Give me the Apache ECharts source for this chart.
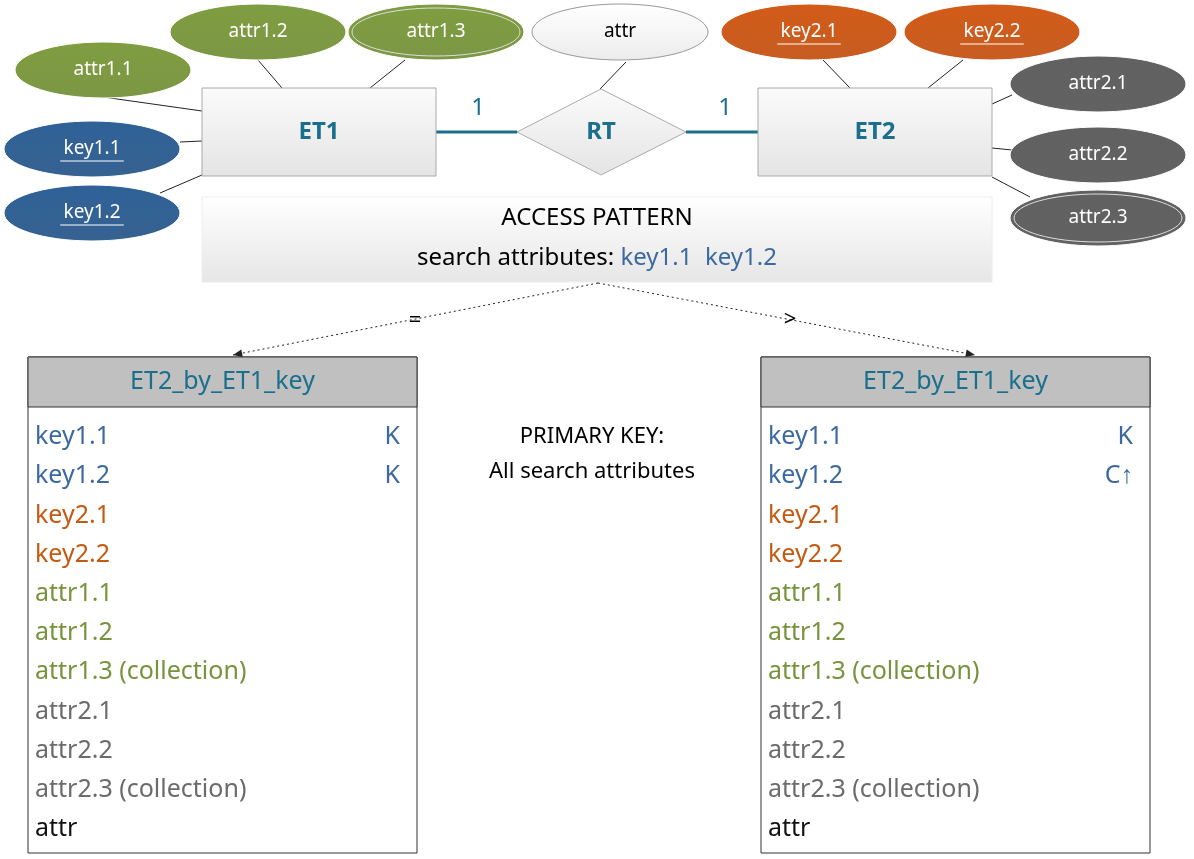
<!DOCTYPE html>
<html><head><meta charset="utf-8">
<script src="https://cdn.jsdelivr.net/npm/echarts@6/dist/echarts.min.js"></script>
<style>html,body{margin:0;background:#fff}#c{width:1194px;height:859px}</style>
</head><body><div id="c"></div>
<script>
// ellipses: label, cx, cy, kind, isKey, double border
const ellipses = [
  ['attr1.1', 103, 70, 'green', false, false],
  ['attr1.2', 258, 32, 'green', false, false],
  ['attr1.3', 436, 32, 'green', false, true],
  ['key1.1', 92, 149, 'blue', true, false],
  ['key1.2', 92, 213, 'blue', true, false],
  ['attr', 620, 32, 'white', false, false],
  ['key2.1', 809, 32, 'orange', true, false],
  ['key2.2', 992, 32, 'orange', true, false],
  ['attr2.1', 1098, 84, 'gray', false, false],
  ['attr2.2', 1098, 155, 'gray', false, false],
  ['attr2.3', 1098, 218, 'gray', false, true]
]
// connector lines from attributes to entity boxes
const links = [
  [103, 97, 202, 111], [258, 60, 282, 88], [405, 60, 370, 88], [180, 142, 202, 141],
  [160, 193, 202, 175], [626, 62, 600, 89], [823, 60, 850, 88], [963, 60, 928, 88],
  [1012, 95, 992, 104], [1012, 150, 992, 148], [1030, 197, 992, 177]
]
const entities = [['ET1', 202, 88, 234, 88], ['ET2', 758, 88, 234, 88]]
const tableRows = ['key1.1', 'key1.2', 'key2.1', 'key2.2', 'attr1.1', 'attr1.2',
  'attr1.3 (collection)', 'attr2.1', 'attr2.2', 'attr2.3 (collection)', 'attr']
const rowKinds = ['blue', 'blue', 'orange', 'orange', 'green', 'green', 'green', 'gray', 'gray', 'gray', 'black']
const leftMarks = ['K', 'K']
const rightMarks = ['K', 'C↑']
const tableX = [28, 761]

const fill = { green: '#76923c', blue: '#2c5a8c', orange: '#c45517', gray: '#5a5a5a', white: '#f6f6f6' }
const txt = { green: '#77933c', blue: '#3c6aa0', orange: '#c55a11', gray: '#6b6b6b', black: '#111' }
const teal = '#1a6f8c'
const font = '"Noto Sans", sans-serif'
const cond = '"Liberation Sans Narrow", "Noto Sans", sans-serif'

function ellipseItem (params, api) {
  const e = ellipses[params.dataIndex]
  const c = api.coord([e[1], e[2]])
  const s = api.size([88, 28])
  const light = e[3] === 'white'
  const ch = [{
    type: 'ellipse', shape: { cx: c[0], cy: c[1], rx: s[0], ry: s[1] },
    style: {
      fill: new echarts.graphic.LinearGradient(0, 0, 0, 1, [
        { offset: 0, color: light ? '#ffffff' : echarts.color.lift(fill[e[3]], -0.08) },
        { offset: 1, color: light ? '#ececec' : echarts.color.lift(fill[e[3]], 0.05) }]),
      stroke: light ? '#999' : '#fff', lineWidth: 1
    }
  }]
  if (e[5]) {
    ch.push({ type: 'ellipse', shape: { cx: c[0], cy: c[1], rx: s[0] - 4, ry: s[1] - 4 },
      style: { fill: 'none', stroke: light ? '#999' : '#ddd', lineWidth: 1 } })
  }
  ch.push({ type: 'text', style: { text: e[0], x: c[0], y: c[1], align: 'center', verticalAlign: 'middle',
    fill: light ? '#000' : '#fff', font: '19px ' + font } })
  if (e[4]) {
    const w = e[0].length * 10.6
    ch.push({ type: 'line', shape: { x1: c[0] - w / 2, y1: c[1] + 12, x2: c[0] + w / 2, y2: c[1] + 12 },
      style: { stroke: '#fff', lineWidth: 1 } })
  }
  return { type: 'group', children: ch }
}

function linkItem (params, api) {
  const l = links[params.dataIndex]
  const a = api.coord([l[0], l[1]]), b = api.coord([l[2], l[3]])
  return { type: 'line', shape: { x1: a[0], y1: a[1], x2: b[0], y2: b[1] }, style: { stroke: '#222', lineWidth: 1 } }
}

function boxGrad () {
  return new echarts.graphic.LinearGradient(0, 0, 0, 1, [{ offset: 0, color: '#fbfbfb' }, { offset: 1, color: '#e4e4e4' }])
}

function entityItem (params, api) {
  const e = entities[params.dataIndex]
  const p = api.coord([e[1], e[2]]), s = api.size([e[3], e[4]])
  return { type: 'group', children: [
    { type: 'rect', shape: { x: p[0], y: p[1], width: s[0], height: s[1] }, style: { fill: boxGrad(), stroke: '#aaa' } },
    { type: 'text', style: { text: e[0], x: p[0] + s[0] / 2, y: p[1] + s[1] / 2, align: 'center', verticalAlign: 'middle',
      fill: teal, font: 'bold 24px ' + font } }
  ] }
}

function staticItem (params, api) {
  const P = (x, y) => api.coord([x, y])
  const d = [P(517, 132), P(601, 89), P(686, 132), P(601, 175)]
  const f24 = '24px ' + font
  const ch = [
    { type: 'line', shape: { x1: P(436, 132)[0], y1: P(436, 132)[1], x2: d[0][0], y2: d[0][1] }, style: { stroke: teal, lineWidth: 3 } },
    { type: 'line', shape: { x1: d[2][0], y1: d[2][1], x2: P(758, 132)[0], y2: P(758, 132)[1] }, style: { stroke: teal, lineWidth: 3 } },
    { type: 'polygon', shape: { points: d }, style: { fill: boxGrad(), stroke: '#aaa' } },
    { type: 'text', style: { text: 'RT', x: P(601, 132)[0], y: P(601, 132)[1], align: 'center', verticalAlign: 'middle', fill: teal, font: 'bold 24px ' + font } },
    { type: 'text', style: { text: '1', x: P(478, 108)[0], y: P(478, 108)[1], align: 'center', verticalAlign: 'middle', fill: teal, font: f24 } },
    { type: 'text', style: { text: '1', x: P(725, 108)[0], y: P(725, 108)[1], align: 'center', verticalAlign: 'middle', fill: teal, font: f24 } },
    { type: 'rect', shape: { x: P(202, 197)[0], y: P(202, 197)[1], width: api.size([790, 85])[0], height: api.size([790, 85])[1] },
      style: { fill: new echarts.graphic.LinearGradient(0, 0, 0, 1, [{ offset: 0, color: '#ffffff' }, { offset: 1, color: '#e6e6e6' }]), stroke: '#eee' } },
    { type: 'text', style: { text: 'ACCESS PATTERN', x: P(597, 218)[0], y: P(597, 218)[1], align: 'center', verticalAlign: 'middle', fill: '#000', font: f24 } },
    { type: 'text', style: { x: P(597, 258)[0], y: P(597, 258)[1], align: 'center', verticalAlign: 'middle',
      text: '{k|search attributes: }{b|key1.1  key1.2}', rich: { k: { fill: '#000', font: f24 }, b: { fill: txt.blue, font: f24 } } } },
    { type: 'text', style: { text: 'PRIMARY KEY:', x: P(592, 437)[0], y: P(592, 437)[1], align: 'center', verticalAlign: 'middle', fill: '#000', font: '22px ' + font } },
    { type: 'text', style: { text: 'All search attributes', x: P(592, 472)[0], y: P(592, 472)[1], align: 'center', verticalAlign: 'middle', fill: '#000', font: '22px ' + font } }
  ]
  const arrows = [[233, 355, '=', 415, 321], [975, 355, '>', 790, 320]]
  arrows.forEach(a => {
    const s = P(598, 283), t = P(a[0], a[1])
    const ang = Math.atan2(t[1] - s[1], t[0] - s[0])
    ch.push({ type: 'line', shape: { x1: s[0], y1: s[1], x2: t[0], y2: t[1] }, style: { stroke: '#222', lineWidth: 1, lineDash: [2, 3] } })
    ch.push({ type: 'polygon', shape: { points: [t,
      [t[0] - 10 * Math.cos(ang - 0.4), t[1] - 10 * Math.sin(ang - 0.4)],
      [t[0] - 10 * Math.cos(ang + 0.4), t[1] - 10 * Math.sin(ang + 0.4)]] }, style: { fill: '#222' } })
    ch.push({ type: 'text', style: { text: a[2], x: P(a[3], a[4])[0], y: P(a[3], a[4])[1], align: 'center', verticalAlign: 'middle', fill: '#000', font: '22px ' + font } })
  })
  return { type: 'group', children: ch }
}

function tableItem (params, api) {
  const x0 = tableX[params.dataIndex]
  const marks = params.dataIndex ? rightMarks : leftMarks
  const p = api.coord([x0, 357]), s = api.size([389, 496]), h = api.size([0, 50])[1]
  const f = '25px ' + font
  const ch = [
    { type: 'rect', shape: { x: p[0], y: p[1], width: s[0], height: s[1] }, style: { fill: '#fff', stroke: '#333' } },
    { type: 'rect', shape: { x: p[0], y: p[1], width: s[0], height: h }, style: { fill: '#c0c0c0', stroke: '#333' } },
    { type: 'text', style: { text: 'ET2_by_ET1_key', x: p[0] + s[0] / 2, y: p[1] + h / 2, align: 'center', verticalAlign: 'middle', fill: teal, font: f } }
  ]
  tableRows.forEach((r, i) => {
    const q = api.coord([x0 + 7, 437 + i * 39.2])
    ch.push({ type: 'text', style: { text: r, x: q[0], y: q[1], verticalAlign: 'middle', fill: txt[rowKinds[i]], font: f } })
    if (marks[i]) {
      const m = api.coord([x0 + 372, 437 + i * 39.2])
      ch.push({ type: 'text', style: { text: marks[i], x: m[0], y: m[1], align: 'right', verticalAlign: 'middle', fill: txt.blue, font: f } })
    }
  })
  return { type: 'group', children: ch }
}

const chart = echarts.init(document.getElementById('c'))
chart.setOption({
  animation: false,
  grid: { left: 0, right: 0, top: 0, bottom: 0 },
  xAxis: { type: 'value', min: 0, max: 1194, show: false },
  yAxis: { type: 'value', min: 0, max: 859, inverse: true, show: false },
  series: [
    { type: 'custom', renderItem: linkItem, data: links.map(l => [l[0], l[1]]) },
    { type: 'custom', renderItem: staticItem, data: [[0, 0]] },
    { type: 'custom', renderItem: entityItem, data: entities.map(e => [e[1], e[2]]) },
    { type: 'custom', renderItem: ellipseItem, data: ellipses.map(e => [e[1], e[2]]) },
    { type: 'custom', renderItem: tableItem, data: tableX.map(x => [x, 357]) }
  ]
})
</script></body></html>
